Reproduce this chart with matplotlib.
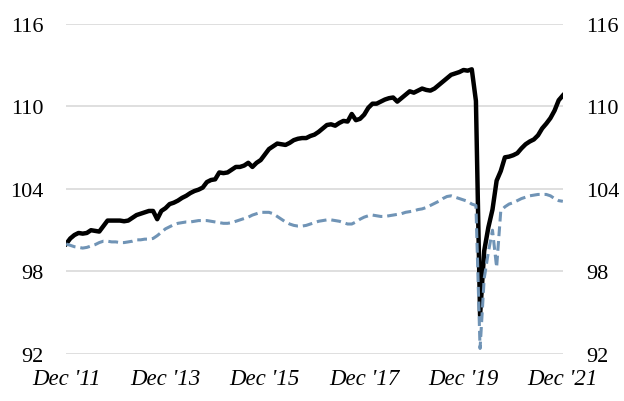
import matplotlib
matplotlib.use("Agg")
import matplotlib.pyplot as plt

# Monthly index values, Dec 2011 = 100
months = list(range(121))  # Dec '11 .. Dec '21

series_black = [
    100.0, 100.4, 100.65, 100.8, 100.75, 100.8, 101.0, 100.95, 100.9, 101.3, 101.7, 101.7,
    101.7, 101.7, 101.65, 101.7, 101.9, 102.1, 102.2, 102.3, 102.4, 102.4, 101.8, 102.4,
    102.6, 102.9, 103.0, 103.15, 103.35, 103.5, 103.7, 103.85, 103.95, 104.1, 104.5, 104.65,
    104.7, 105.2, 105.15, 105.2, 105.4, 105.6, 105.6, 105.7, 105.9, 105.6, 105.9, 106.1,
    106.5, 106.9, 107.1, 107.3, 107.25, 107.2, 107.35, 107.55, 107.65, 107.7, 107.7, 107.85,
    107.95, 108.15, 108.4, 108.65, 108.7, 108.6, 108.8, 108.95, 108.9, 109.45, 109.0, 109.1,
    109.4, 109.9, 110.2, 110.2, 110.35, 110.5, 110.6, 110.65, 110.35, 110.6, 110.85, 111.1,
    111.0, 111.15, 111.3, 111.2, 111.15, 111.3, 111.55, 111.8, 112.05, 112.3, 112.4, 112.5,
    112.65, 112.6, 112.7, 110.4, 94.8, 99.5, 101.2, 102.5, 104.6, 105.3, 106.3, 106.35,
    106.45, 106.6, 106.95, 107.25, 107.45, 107.6, 107.9, 108.4, 108.75, 109.15, 109.7, 110.45,
    110.8,
]

series_blue = [
    100.0, 99.9, 99.8, 99.75, 99.7, 99.75, 99.85, 99.95, 100.1, 100.2, 100.2, 100.15,
    100.15, 100.1, 100.1, 100.15, 100.2, 100.3, 100.3, 100.35, 100.35, 100.4, 100.6, 100.85,
    101.1, 101.25, 101.4, 101.5, 101.55, 101.6, 101.6, 101.65, 101.7, 101.7, 101.7, 101.65,
    101.6, 101.55, 101.5, 101.5, 101.55, 101.65, 101.75, 101.85, 101.95, 102.1, 102.2, 102.3,
    102.3, 102.3, 102.2, 102.0, 101.8, 101.6, 101.45, 101.35, 101.3, 101.3, 101.35, 101.45,
    101.55, 101.65, 101.7, 101.75, 101.75, 101.7, 101.65, 101.55, 101.45, 101.45, 101.6, 101.8,
    101.95, 102.05, 102.1, 102.05, 102.0, 102.0, 102.05, 102.1, 102.15, 102.2, 102.3, 102.35,
    102.4, 102.5, 102.55, 102.65, 102.8, 102.95, 103.1, 103.3, 103.45, 103.5, 103.4, 103.3,
    103.2, 103.1, 102.9, 102.8, 92.4, 97.5, 99.4, 101.0, 98.3, 102.4, 102.7, 102.9,
    103.0, 103.15, 103.3, 103.4, 103.5, 103.55, 103.6, 103.6, 103.6, 103.5, 103.3, 103.15,
    103.1,
]

tick_pos = [0, 24, 48, 72, 96, 120]
tick_labels = ["Dec '11", "Dec '13", "Dec '15", "Dec '17", "Dec '19", "Dec '21"]
y_ticks = [92, 98, 104, 110, 116]

plt.rcParams["font.family"] = ["Liberation Serif", "DejaVu Serif"]

fig = plt.figure(figsize=(6.24, 4.02), dpi=100)
ax = fig.add_axes([0.106, 0.117, 0.796, 0.821])

ax.plot(months, series_black, color="black", linewidth=3.2, zorder=3,
        solid_joinstyle="round")
ax.plot(months, series_blue, color="#7094B6", linewidth=2.2, linestyle=(0, (3.2, 1.6)),
        zorder=4)

ax.set_xlim(0, 120)
ax.set_ylim(92, 116)
ax.set_yticks(y_ticks)
ax.set_xticks(tick_pos)
ax.set_xticklabels(tick_labels, fontstyle="italic")
ax.grid(axis="y", color="#D9D9D9", linewidth=1.2)
ax.set_axisbelow(True)
for s in ax.spines.values():
    s.set_visible(False)
ax.tick_params(axis="y", length=0, labelsize=16, pad=16.5, labelleft=True, labelright=True)
ax.tick_params(axis="x", length=0, labelsize=16.5, pad=10)

fig.savefig("out.png", dpi=100)
